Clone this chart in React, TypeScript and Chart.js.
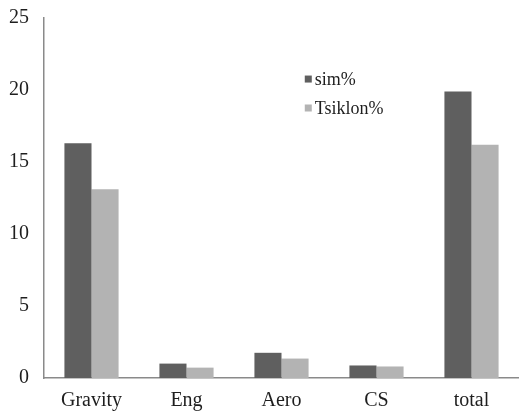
import React, { useEffect, useRef } from "react";
import { Chart, registerables } from "chart.js";

Chart.register(...registerables);

const categories = ["Gravity", "Eng", "Aero", "CS", "total"];
const simValues = [16.3, 1.0, 1.75, 0.87, 19.9];
const tsiklonValues = [13.1, 0.72, 1.35, 0.8, 16.2];
const seriesLabels = ["sim%", "Tsiklon%"];
const seriesColors = ["#5f5f5f", "#b3b3b3"];
const yTicks = [0, 5, 10, 15, 20, 25];

const legendPlugin = {
  id: "innerLegend",
  afterDraw(chart: any) {
    const ctx = chart.ctx;
    const x = chart.scales.x;
    const y = chart.scales.y;
    const startX = x.left + (x.right - x.left) * 0.549;
    const rows = [y.getPixelForValue(20.76), y.getPixelForValue(18.75)];
    ctx.save();
    ctx.font = "18px 'Liberation Serif'";
    ctx.textBaseline = "alphabetic";
    chart.data.datasets.forEach((ds: any, i: number) => {
      const cy = rows[i];
      ctx.fillStyle = ds.backgroundColor;
      ctx.fillRect(startX, cy - 3.5, 7, 7);
      ctx.fillStyle = "#1e1e1e";
      ctx.fillText(ds.label, startX + 10, cy + 6);
    });
    ctx.restore();
  },
};

export default function App() {
  const ref = useRef<HTMLCanvasElement>(null);
  useEffect(() => {
    document.body.style.margin = "0";
    const chart = new Chart(ref.current!, {
      type: "bar",
      data: {
        labels: categories,
        datasets: [
          { label: seriesLabels[0], data: simValues, backgroundColor: seriesColors[0] },
          { label: seriesLabels[1], data: tsiklonValues, backgroundColor: seriesColors[1] },
        ],
      },
      options: {
        animation: false,
        responsive: false,
        maintainAspectRatio: false,
        layout: { padding: { top: 18, right: 0, left: 0, bottom: 0 } },
        plugins: { legend: { display: false }, tooltip: { enabled: false } },
        datasets: { bar: { categoryPercentage: 0.57, barPercentage: 1 } },
        scales: {
          x: {
            grid: { display: false, drawTicks: false },
            border: { display: true, color: "#8a8a8a", width: 1.5 },
            ticks: { color: "#1e1e1e", font: { family: "'Liberation Serif'", size: 20 }, padding: 11 },
            afterFit: (s: any) => { s.height = 33; s.paddingLeft = 0; s.paddingRight = 0; },
          },
          y: {
            min: 0,
            max: 25,
            afterBuildTicks: (s: any) => { s.ticks = yTicks.map((v) => ({ value: v })); },
            grid: { display: false, drawTicks: false },
            border: { display: true, color: "#8a8a8a", width: 1.5 },
            ticks: { color: "#1e1e1e", font: { family: "'Liberation Serif'", size: 20 }, padding: 15 },
            afterFit: (s: any) => { s.width = 44; s.paddingTop = 0; s.paddingBottom = 0; },
          },
        },
      },
      plugins: [legendPlugin],
    });
    return () => chart.destroy();
  }, []);
  return <canvas ref={ref} width={519} height={411} style={{ display: "block" }} />;
}
